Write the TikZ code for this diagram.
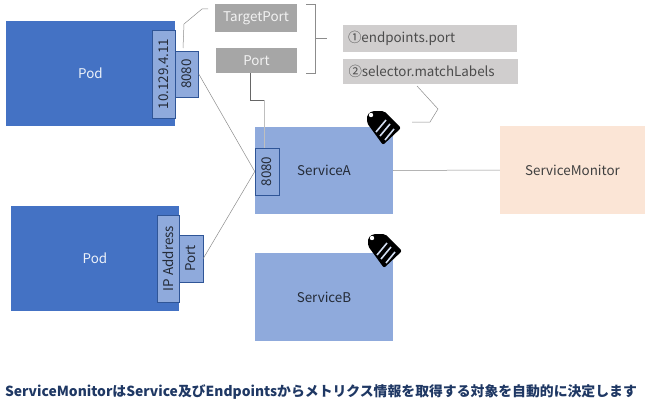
\documentclass[tikz,border=0pt]{standalone}
\usepackage{fontspec}
\setmainfont{Noto Sans CJK JP}
\definecolor{podblue}{HTML}{4472C4}
\definecolor{svcblue}{HTML}{8FAADC}
\definecolor{portline}{HTML}{2F5597}
\definecolor{monpeach}{HTML}{FBE5D6}
\definecolor{labgrey}{HTML}{A6A6A6}
\definecolor{notegrey}{HTML}{D0CECE}
\definecolor{capblue}{HTML}{1F3864}
\begin{document}
\begin{tikzpicture}[x=1pt,y=-1pt,
  box/.style={inner sep=0pt,font=\fontsize{13.4}{15}\selectfont},
  pod/.style={box,fill=podblue,text=white!90!podblue},
  service/.style={box,fill=svcblue,text=black!75!svcblue},
  port/.style={box,fill=svcblue,draw=portline,line width=.5pt,rotate=90,text=black!75!svcblue},
  greylabel/.style={box,fill=labgrey,text=white!85!labgrey},
  note/.style={box,fill=notegrey,text=black!70,text width=164pt,align=left},
  wire/.style={draw=black!45,line width=.5pt},
  tag/.pic={
    \fill[black,rounded corners=2pt] (0,4) -- (5,0) -- (17,0) -- (34,17) -- (16,34) -- (0,12) -- cycle;
    \fill[white] (4,4) circle (2.2);
    \draw[white!60!svcblue,line width=1.6pt] (9,21) -- (19,9) (13,25) -- (23,13) (18,29) -- (27,18);
  }]
  \useasboundingbox (0,0) rectangle (652,404);

  \node[pod,minimum width=169pt,minimum height=105pt] (pod1) at (90.5,73.5) {Pod};
  \node[port,minimum width=88pt,minimum height=23pt] (ip1) at (163.5,74) {10.129.4.11};
  \node[port,minimum width=46pt,minimum height=23pt] (port1) at (187,74) {8080};

  \node[pod,minimum width=168pt,minimum height=105pt] (pod2) at (95,258.5) {Pod};
  \node[port,minimum width=87pt,minimum height=22pt] (ip2) at (168,258.5) {IP Address};
  \node[port,minimum width=47pt,minimum height=24pt] (port2) at (191,258.5) {Port};

  \node[service,minimum width=138pt,minimum height=87pt] (servicea) at (324,170.5) {ServiceA};
  \node[port,minimum width=47pt,minimum height=24pt] (porta) at (267,171.5) {8080};
  \node[service,minimum width=138pt,minimum height=88pt] (serviceb) at (324,297) {ServiceB};
  \node[box,fill=monpeach,text=black!75,minimum width=145pt,minimum height=88pt] (monitor) at (572.5,170) {ServiceMonitor};

  \node[greylabel,minimum width=82pt,minimum height=28pt] (targetport) at (256,18) {TargetPort};
  \node[greylabel,minimum width=81pt,minimum height=25pt] (portlabel) at (256.5,60.5) {Port};
  \node[note,minimum width=174pt,minimum height=27pt] (endpoints) at (430,38.5) {①endpoints.port};
  \node[note,minimum width=175pt,minimum height=25pt] (selector) at (430.5,71.5) {②selector.matchLabels};

  \coordinate (bracetop) at (306,4);
  \coordinate (bracebot) at (306,73);
  \coordinate (bracetip) at (327,38);
  \coordinate (ipend) at (183,48);
  \coordinate (targetend) at (208,9);
  \coordinate (tagend) at (412,122);
  \coordinate (selend) at (417,86);

  \draw[wire] (port1.south) -- (porta.north);
  \draw[wire] (port2.south) -- (porta.north);
  \draw[wire] (servicea.east) -- (monitor.west);
  \draw[wire] (ipend) -- (184,24) -- (202,9) -- (targetend);
  \draw[wire,black!60] (portlabel.south -| 250,73) -- (250,100) -- (264,100);
  \draw[wire,black!25] (264,100) -- (264,148);
  \draw[wire] (bracetop) -- (315,4) -- (315,73) -- (bracebot) (315,38) -- (bracetip);
  \draw[wire] (selend) -- (438,109) -- (430,122) -- (tagend);

  \pic at (367,111) {tag};
  \pic at (368,234) {tag};

  \node[text=capblue,font=\bfseries\fontsize{13.85}{16}\selectfont,inner sep=0pt] (caption) at (321,392) {ServiceMonitorはService及びEndpointsからメトリクス情報を取得する対象を自動的に決定します};
\end{tikzpicture}
\end{document}
